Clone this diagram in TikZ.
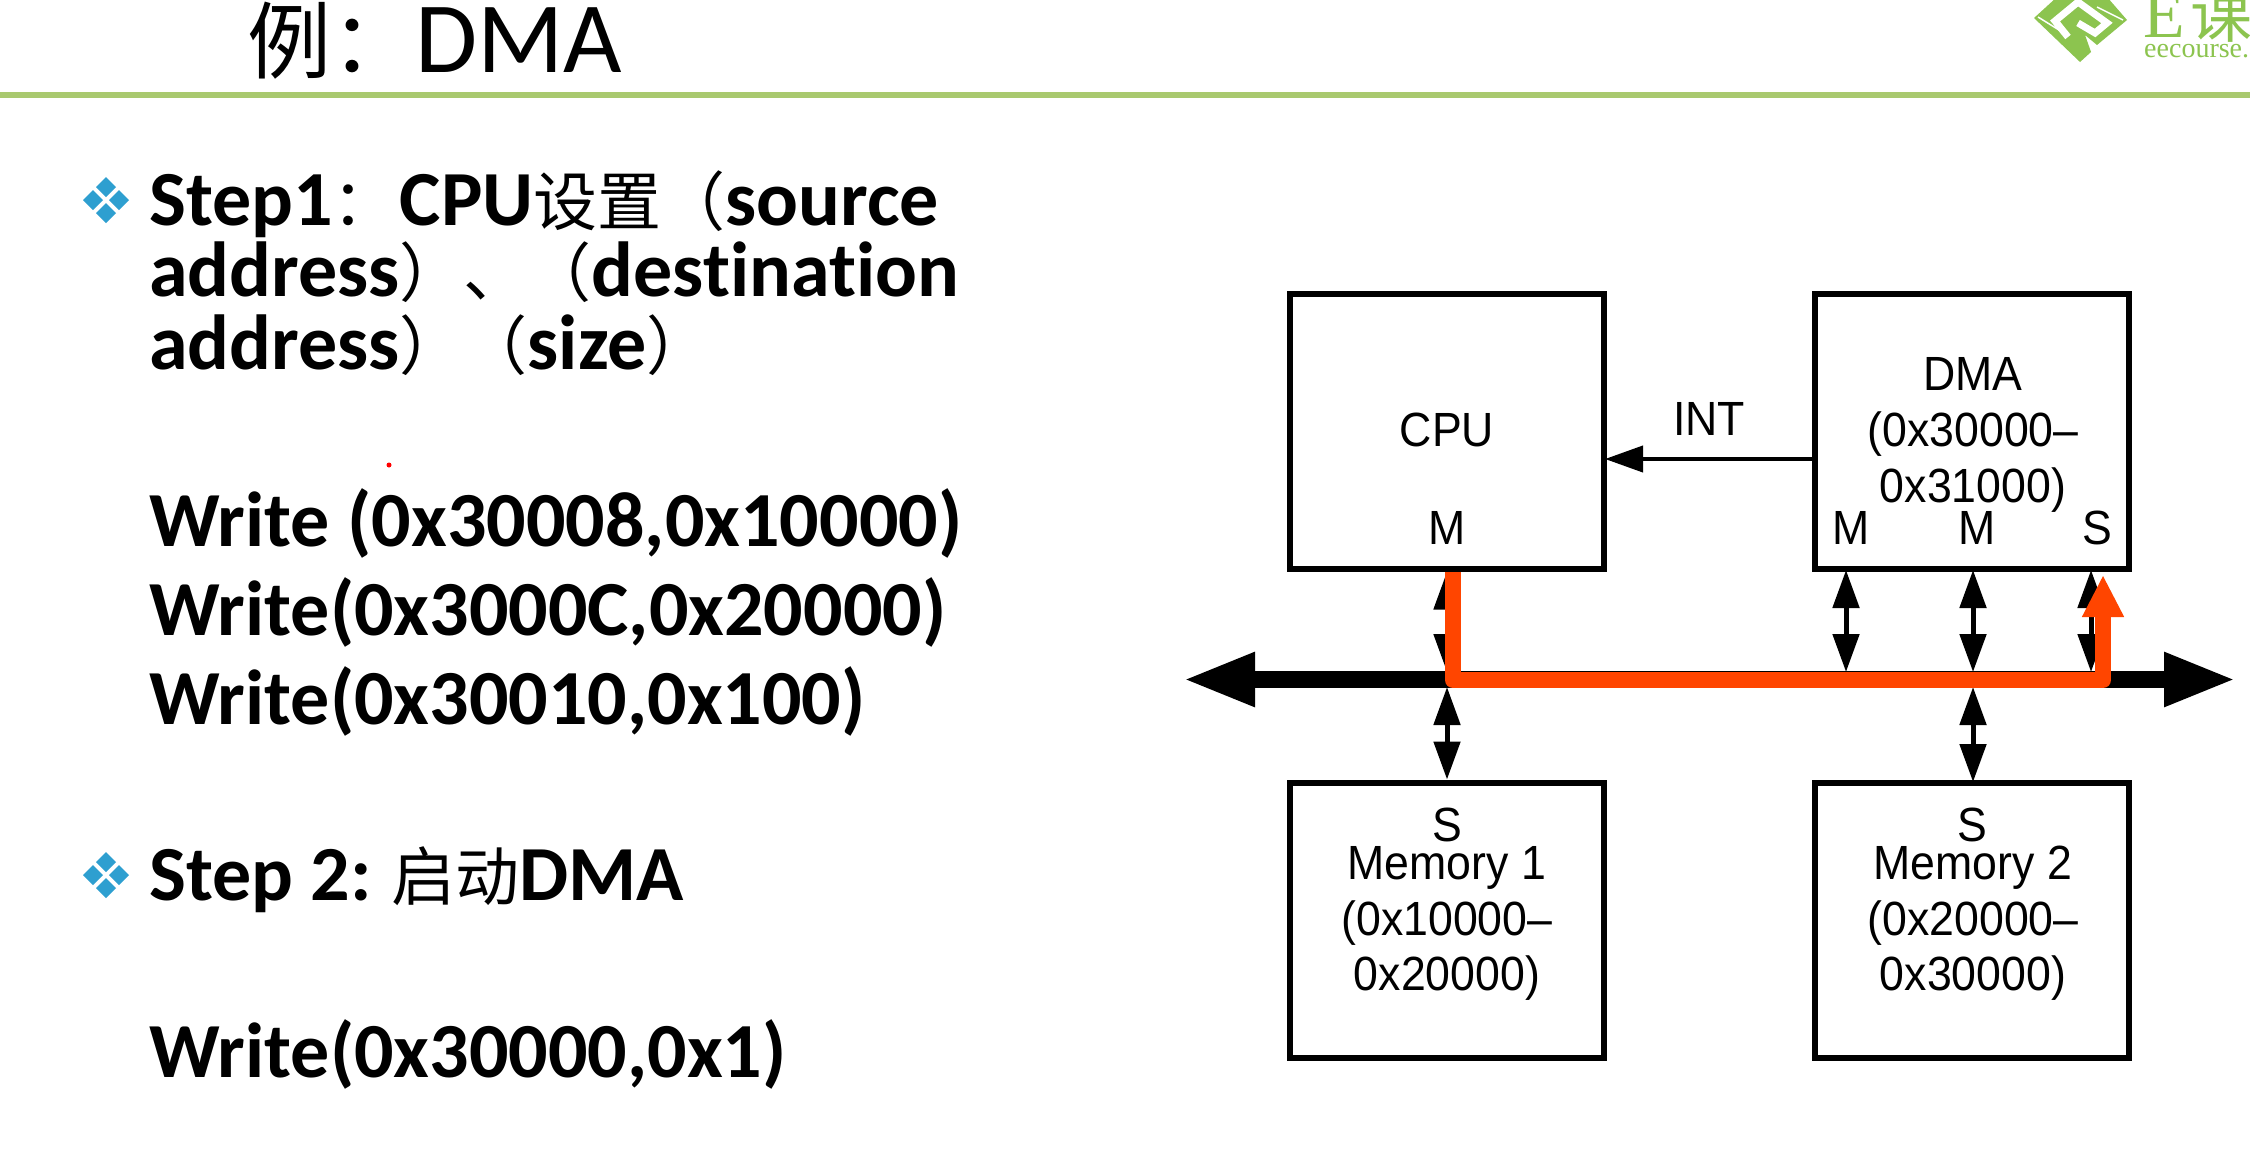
\documentclass[tikz,border=0pt]{standalone}
\usepackage{fontspec}
\usetikzlibrary{arrows.meta}
\setmainfont[Ligatures={NoCommon,NoRequired,NoContextual}]{Carlito}
\newfontfamily\cjk{Noto Sans CJK SC}
\newfontfamily\diag[FakeStretch=0.93]{Liberation Sans}
\newfontfamily\logofont{Liberation Serif}
\definecolor{rulegreen}{HTML}{A9C96F}
\definecolor{logogreen}{HTML}{8CC44F}
\definecolor{bulletblue}{HTML}{2E9FD0}
\definecolor{pathred}{HTML}{FF4500}
\newcommand{\zh}[1]{{\cjk\mdseries\fontsize{64}{64}\selectfont #1}}
\newcommand{\zhtitle}[1]{{\cjk\mdseries\fontsize{84}{84}\selectfont #1}}
\newcommand{\zhlogo}[1]{{\cjk\mdseries\fontsize{62}{62}\selectfont #1}}
\tikzset{
  x=1pt,y=-1pt,
  txt/.style={anchor=base west,inner sep=0pt,font=\fontsize{78}{78}\selectfont\bfseries},
  titletxt/.style={anchor=base west,inner sep=0pt,font=\fontsize{101}{101}\selectfont},
  boxnode/.style={draw=black,line width=6pt,fill=white,minimum width=314pt,minimum height=275pt,inner sep=0pt},
  lab/.style={inner sep=0pt,font=\fontsize{48}{48}\selectfont\diag,anchor=base},
  biarrow/.style={line width=5pt,{Triangle[length=38pt,width=26pt]}-{Triangle[length=38pt,width=26pt]}},
  busline/.style={line width=17pt,{Triangle[length=72pt,width=50pt]}-{Triangle[length=72pt,width=50pt]}},
  redpath/.style={draw=pathred,line width=16pt,line join=round,-{Triangle[length=42pt,width=39pt]}},
  bulletd/.style={fill=bulletblue,draw=none},
}
\newcommand{\bulletmark}[2]{%
  \foreach \dx/\dy in {0/-13,0/13,-13/0,13/0}{
    \fill[bulletd] (#1+\dx-10,#2+\dy) -- (#1+\dx,#2+\dy-10) -- (#1+\dx+10,#2+\dy) -- (#1+\dx,#2+\dy+10) -- cycle;
  }}
\begin{document}
\begin{tikzpicture}
\useasboundingbox (0,0) rectangle (2250,1167);
\clip (0,0) rectangle (2250,1167);
\fill[white] (0,0) rectangle (2250,1167);

% header
\node[titletxt] (title) at (247,72) {\zhtitle{例：}DMA};
\fill[rulegreen] (0,92) rectangle (2250,98);

% logo
\fill[logogreen] (2034,18) -- (2057,-3) -- (2107,-3) -- (2127,20) -- (2097,45) -- (2085,35) -- (2091,52) -- (2080,62) -- cycle;
\draw[white,line width=7pt,line join=miter] (2068,37) -- (2055,21) -- (2078,2) -- (2107,23) -- (2095,33) -- (2078,23);
\draw[white,line width=1.5pt] (2038,17) -- (2067,35);
\draw[white,line width=1.5pt] (2097,7) -- (2123,20);
\node[anchor=base west,inner sep=0pt,text=logogreen,font=\fontsize{68}{68}\selectfont\logofont] (logoE) at (2143,37) {E\hspace{6pt}\zhlogo{课}};
\node[anchor=base west,inner sep=0pt,text=logogreen,font=\fontsize{28}{28}\selectfont\logofont] (logoT) at (2144,57) {eecourse.};

% left text
\bulletmark{106}{200}
\node[txt] (s1a) at (149,225) {Step1\zh{：}\kern3pt CPU\zh{设置（}source};
\node[txt] (s1b) at (149,296) {address\zh{）、（}destination};
\node[txt] (s1c) at (149,369) {address\zh{）（}size\zh{）}};
\fill[red] (389,465) circle (2.5);
\node[txt] (w1) at (149,546) {Write (0x30008,0x10000)};
\node[txt] (w2) at (149,635) {Write(0x3000C,0x20000)};
\node[txt] (w3) at (149,724) {Write(0x30010,0x100)};
\bulletmark{106}{875}
\node[txt] (s2) at (149,900) {Step 2:\kern-4pt{} \zh{启动}DMA};
\node[txt] (w4) at (149,1077) {Write(0x30000,0x1)};

% boxes
\node[boxnode] (cpu) at (1447,431) {};
\node[boxnode] (dma) at (1972,431) {};
\node[boxnode] (mem1) at (1447,920) {};
\node[boxnode] (mem2) at (1972,920) {};

% box labels
\node[lab] (cpuL) at (1447,446) {CPU};
\node[lab] (cpuM) at (1447,544) {M};
\node[lab] (dmaA) at (1973,390) {DMA};
\node[lab] (dmaB) at (1973,446) {(0x30000–};
\node[lab] (dmaC) at (1973,502) {0x31000)};
\node[lab] (dmaM1) at (1851,544) {M};
\node[lab] (dmaM2) at (1977,544) {M};
\node[lab] (dmaS) at (2097,544) {S};
\node[lab] (m1S) at (1447,841) {S};
\node[lab] (m1A) at (1447,879) {Memory 1};
\node[lab] (m1B) at (1447,935) {(0x10000–};
\node[lab] (m1C) at (1447,990) {0x20000)};
\node[lab] (m2S) at (1972,841) {S};
\node[lab] (m2A) at (1973,879) {Memory 2};
\node[lab] (m2B) at (1973,935) {(0x20000–};
\node[lab] (m2C) at (1973,990) {0x30000)};
\node[lab] (intL) at (1709,435) {INT};

% bus
\coordinate (busL) at (1183,679.5);
\coordinate (busR) at (2236,679.5);
\draw[busline] (busL) -- (busR);

% port coordinates on the boxes and the bus
\coordinate (pCPU) at (cpu.south);
\coordinate (pD1) at (1846,570);
\coordinate (pD2) at (1973,570);
\coordinate (pD3) at (2091,570);
\coordinate (pM2) at (1973,782);
\coordinate (bCPUu) at (1447,672);
\coordinate (bD1) at (1846,672);
\coordinate (bD2) at (1973,672);
\coordinate (bD3) at (2091,672);
\coordinate (bM1) at (1447,687);
\coordinate (bM2) at (1973,687);

\draw[biarrow] (pCPU) -- (bCPUu);
\draw[biarrow] (pD1) -- (bD1);
\draw[biarrow] (pD2) -- (bD2);
\draw[biarrow] (pD3) -- (bD3);
\draw[biarrow] (bM1) -- (mem1.north);
\draw[biarrow] (bM2) -- (pM2);

% INT
\coordinate (intY) at (0,459);
\draw[line width=4pt,-{Triangle[length=38pt,width=26pt]}] (dma.west |- intY) -- ([xshift=-2pt]cpu.east |- intY);

% highlighted path
\coordinate (rA) at (1453,572);
\coordinate (rB) at (1453,680);
\coordinate (rC) at (2103,680);
\coordinate (rD) at (2103,575);
\draw[redpath] (rA) -- (rB) -- (rC) -- (rD);
\end{tikzpicture}
\end{document}
